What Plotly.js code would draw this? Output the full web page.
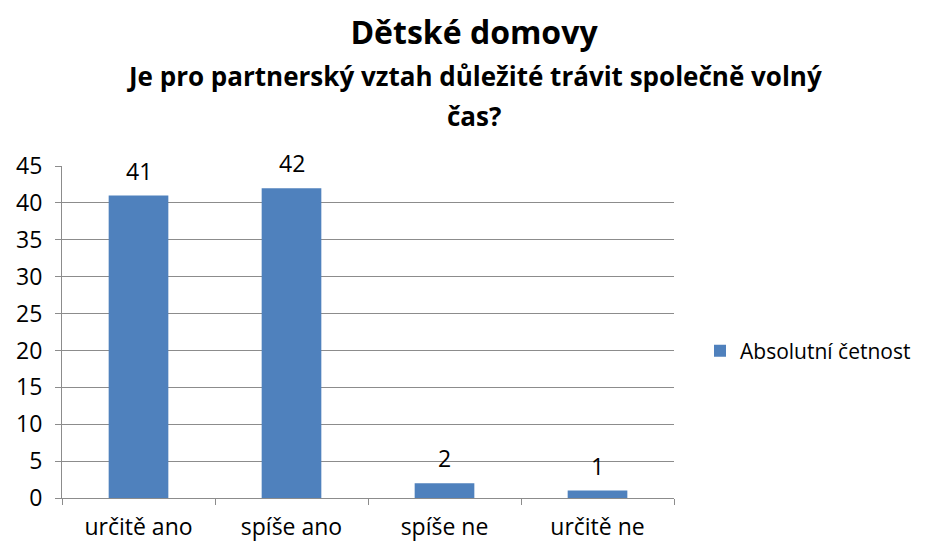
<!DOCTYPE html>
<html>
<head>
<meta charset="utf-8">
<script src="https://cdn.plot.ly/plotly-3.0.1.min.js"></script>
<style>
  body { margin: 0; background: #fff; }
  #chart { width: 931px; height: 545px; }
</style>
</head>
<body>
<div id="chart"></div>
<script>
const categories = ['určitě ano', 'spíše ano', 'spíše ne', 'určitě ne'];
const counts = [41, 42, 2, 1];
const seriesName = 'Absolutní četnost';
const titleMain = 'Dětské domovy';
const titleSub1 = 'Je pro partnerský vztah důležité trávit společně volný';
const titleSub2 = 'čas?';

const fontFamily = 'Open Sans, Liberation Sans, sans-serif';
const barColor = '#4f81bd';
const gridColor = '#8c8c8c';

const labelNotes = categories.map(function (c, i) {
    return {
        x: c, y: counts[i], xref: 'x', yref: 'y',
        text: String(counts[i]), showarrow: false,
        yanchor: 'bottom', yshift: 7,
        font: {size: 23, color: '#000'}
    };
});

const titleNotes = [
    {text: '<b>' + titleSub1 + '</b>', y: 76},
    {text: '<b>' + titleSub2 + '</b>', y: 116}
].map(function (a) {
    return {
        text: a.text, xref: 'paper', yref: 'paper', x: (474 - 62) / 612,
        y: (498 - a.y) / 332, xanchor: 'center', yanchor: 'middle',
        showarrow: false, font: {size: 26, color: '#000'}
    };
});

const trace = {
    type: 'bar',
    x: categories,
    y: counts,
    name: seriesName,
    marker: {color: barColor},
    showlegend: true
};

const layout = {
    width: 931,
    height: 545,
    margin: {l: 62, r: 257, t: 166, b: 47},
    paper_bgcolor: '#fff',
    plot_bgcolor: '#fff',
    font: {family: fontFamily, color: '#000', size: 23},
    title: {
        text: '<b>' + titleMain + '</b>',
        x: 474 / 931, xanchor: 'center',
        y: 1 - 33 / 545, yanchor: 'middle',
        font: {size: 32, color: '#000'}
    },
    bargap: 0.61,
    showlegend: true,
    legend: {
        x: (700 - 62) / 612, xanchor: 'left',
        y: (498 - 351) / 332, yanchor: 'middle',
        font: {size: 21, color: '#000'},
        bgcolor: 'rgba(0,0,0,0)'
    },
    xaxis: {
        type: 'category',
        showline: true, linecolor: gridColor, linewidth: 1,
        ticks: 'outside', tickson: 'boundaries', ticklen: 6, tickcolor: gridColor,
        ticklabelstandoff: 8,
        showgrid: false,
        tickfont: {size: 23, color: '#000'},
        fixedrange: true
    },
    yaxis: {
        range: [0, 45],
        dtick: 5,
        showline: true, linecolor: gridColor, linewidth: 1,
        ticks: 'outside', ticklen: 6, tickcolor: gridColor,
        ticklabelstandoff: 8,
        showgrid: true, gridcolor: gridColor, gridwidth: 1,
        zeroline: false,
        tickfont: {size: 23, color: '#000'},
        fixedrange: true
    },
    annotations: labelNotes.concat(titleNotes)
};

Plotly.newPlot('chart', [trace], layout, {displayModeBar: false, staticPlot: true});
</script>
</body>
</html>
